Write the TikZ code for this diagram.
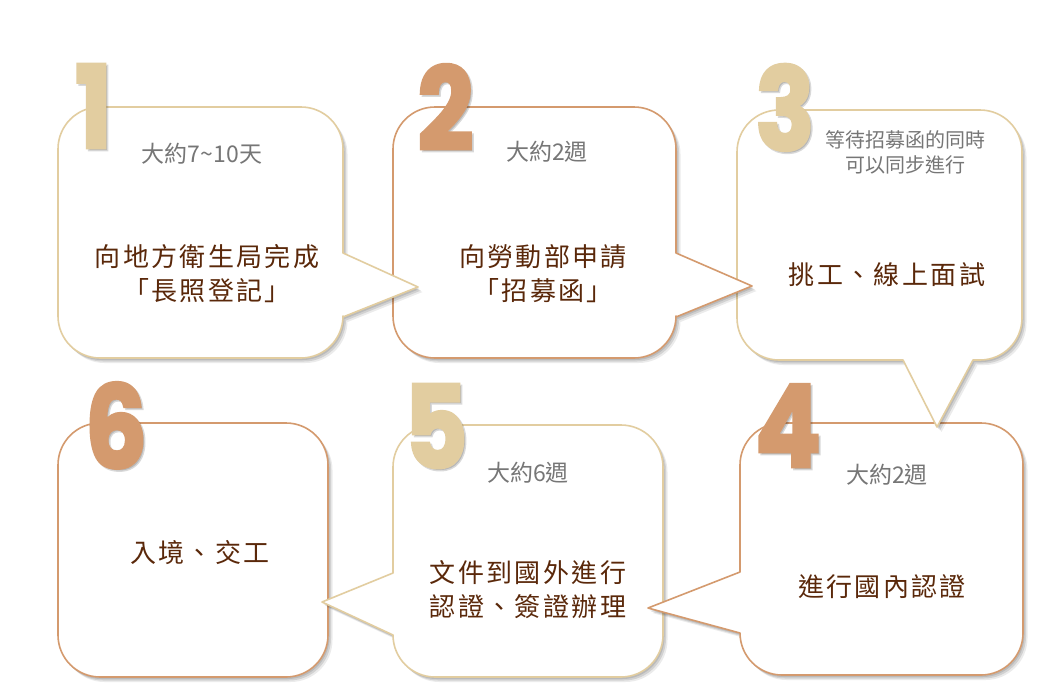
\documentclass[tikz,border=0pt]{standalone}
\usepackage{fontspec}
\newfontfamily\cjk{Noto Sans CJK TC}
\newfontfamily\cjkmain{Noto Sans CJK TC}[LetterSpace=9]
\newfontfamily\numfont{Poppins}[FakeStretch=0.85,BoldFeatures={FakeBold=2.5}]
\definecolor{tanc}{HTML}{E2CDA0}
\definecolor{orgc}{HTML}{D49A6E}
\definecolor{txtbrown}{HTML}{5A280A}
\definecolor{txtgray}{HTML}{767676}
\tikzset{
  boxline/.style={fill=white, line width=1.6pt, line join=round},
  digit/.style={inner sep=0pt, anchor=base, font=\numfont\bfseries\fontsize{115}{115}\selectfont},
  graytxt/.style={inner sep=0pt, text=txtgray, align=center, font=\cjk\fontsize{23}{26}\selectfont},
  smalltxt/.style={inner sep=0pt, text=txtgray, align=center, font=\cjk\fontsize{20}{25}\selectfont},
  maintxt/.style={inner sep=0pt, text=txtbrown, align=center, font=\cjkmain\fontsize{26}{34}\selectfont},
}
\newcommand\pathone{(100,107) -- (301,107) arc[start angle=270,end angle=360,radius=42] -- (343,253) -- (418,287) -- (343,317) -- (343,316) arc[start angle=0,end angle=90,radius=42] -- (100,358) arc[start angle=90,end angle=180,radius=42] -- (58,149) arc[start angle=180,end angle=270,radius=42] -- cycle}
\newcommand\pathtwo{(435,107) -- (634,107) arc[start angle=270,end angle=360,radius=42] -- (676,253) -- (752,286) -- (676,317) -- (676,316) arc[start angle=0,end angle=90,radius=42] -- (435,358) arc[start angle=90,end angle=180,radius=42] -- (393,149) arc[start angle=180,end angle=270,radius=42] -- cycle}
\newcommand\paththree{(779,110) -- (980,110) arc[start angle=270,end angle=360,radius=42] -- (1022,318) arc[start angle=0,end angle=90,radius=42] -- (973,360) -- (937,427) -- (903,360) -- (779,360) arc[start angle=90,end angle=180,radius=42] -- (737,152) arc[start angle=180,end angle=270,radius=42] -- cycle}
\newcommand\pathfour{(782,423) -- (981,423) arc[start angle=270,end angle=360,radius=42] -- (1023,633) arc[start angle=0,end angle=90,radius=42] -- (782,675) arc[start angle=90,end angle=180,radius=42] -- (740,633) -- (648,608) -- (740,572) -- (740,465) arc[start angle=180,end angle=270,radius=42] -- cycle}
\newcommand\pathfive{(435,425) -- (621,425) arc[start angle=270,end angle=360,radius=42] -- (663,635) arc[start angle=0,end angle=90,radius=42] -- (435,677) arc[start angle=90,end angle=180,radius=42] -- (393,635) -- (322,602) -- (393,573) -- (393,467) arc[start angle=180,end angle=270,radius=42] -- cycle}
\newcommand\pathsix{(100,423) -- (286,423) arc[start angle=270,end angle=360,radius=42] -- (328,635) arc[start angle=0,end angle=90,radius=42] -- (100,677) arc[start angle=90,end angle=180,radius=42] -- (58,465) arc[start angle=180,end angle=270,radius=42] -- cycle}
\newcommand\softshadow[1]{%
  \fill[black,opacity=0.11,shift={(1.5,2)}] #1;
  \fill[black,opacity=0.11,shift={(3,3.5)}] #1;
  \fill[black,opacity=0.08,shift={(4.5,5)}] #1;
}
\begin{document}
\begin{tikzpicture}[x=1pt,y=-1pt]
\useasboundingbox[fill=white] (0,0) rectangle (1038,691);
% boxes, back to front
\softshadow{\pathsix}
\draw[boxline,draw=orgc] \pathsix;
\softshadow{\pathfive}
\draw[boxline,draw=tanc] \pathfive;
\softshadow{\pathfour}
\draw[boxline,draw=orgc] \pathfour;
\softshadow{\paththree}
\draw[boxline,draw=tanc] \paththree;
\softshadow{\pathtwo}
\draw[boxline,draw=orgc] \pathtwo;
\softshadow{\pathone}
\draw[boxline,draw=tanc] \pathone;
% digits
\foreach \d/\x/\y/\c in {1/93.5/148/tanc, 2/445.5/150/orgc, 3/785/150/tanc, 4/788/467/orgc, 5/436/468/tanc, 6/116/468/orgc}{
  \node[digit,text=black,opacity=0.15] at (\x+2,\y+2) {\d};
  \node[digit,text=\c] (n\d) at (\x,\y) {\d};
}
% texts
\node[graytxt] (g1) at (202,154) {大約7\textasciitilde10天};
\node[maintxt] (m1) at (207,274) {向地方衛生局完成\\「長照登記」};
\node[graytxt] (g2) at (547,152) {大約2週};
\node[maintxt] (m2) at (543,274) {向勞動部申請\\「招募函」};
\node[smalltxt] (g3) at (905,152) {等待招募函的同時\\可以同步進行};
\node[maintxt] (m3) at (887,275) {挑工、線上面試};
\node[graytxt] (g4) at (887,475) {大約2週};
\node[maintxt] (m4) at (882,587) {進行國內認證};
\node[graytxt] (g5) at (528,473) {大約6週};
\node[maintxt] (m5) at (528,590) {文件到國外進行\\認證、簽證辦理};
\node[maintxt] (m6) at (200,553) {入境、交工};
\end{tikzpicture}
\end{document}
